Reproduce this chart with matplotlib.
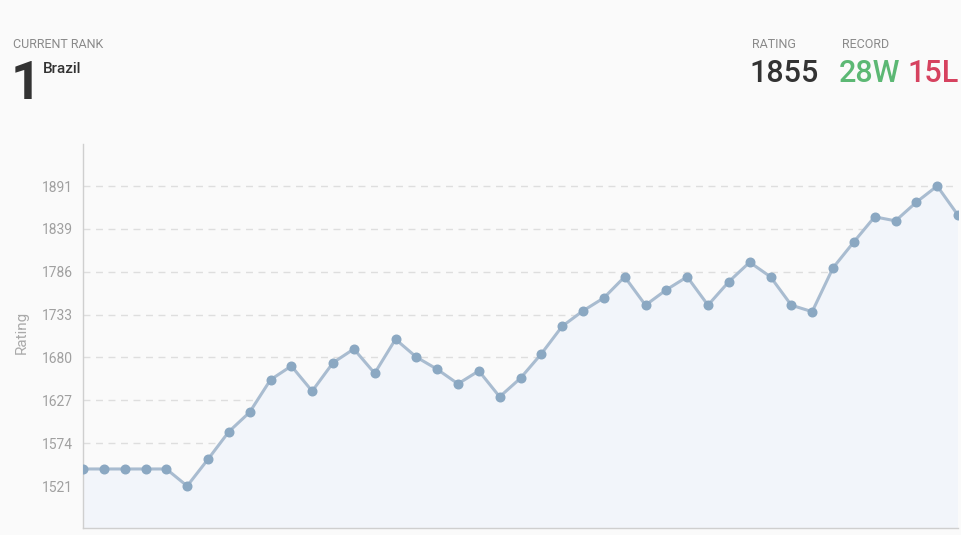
import numpy as np
import matplotlib
matplotlib.use("Agg")
import matplotlib.pyplot as plt

plt.rcParams["font.family"] = ["Roboto", "DejaVu Sans"]

BG = "#fafafa"
FILL = "#f2f5fa"
LINE = "#a9bcd0"
MARKER = "#8ba8c2"
GRID = "#dedede"
TICK_TEXT = "#a0a0a0"
LABEL_TEXT = "#8a8a8a"
DARK_TEXT = "#333333"
WIN_COLOR = "#5cb874"
LOSS_COLOR = "#d6425f"

# rating after each game
ratings = [1542, 1542, 1542, 1542, 1542, 1521, 1554, 1588, 1612, 1652,
           1669, 1638, 1673, 1690, 1660, 1702, 1680, 1665, 1647, 1663,
           1631, 1654, 1684, 1718, 1737, 1753, 1779, 1744, 1763, 1779,
           1744, 1773, 1797, 1779, 1744, 1736, 1790, 1822, 1853, 1848,
           1871, 1891, 1855]
rank = "1"
team = "Brazil"
current_rating = "1855"
wins = "28W"
losses = "15L"

games = np.arange(len(ratings))
lo, hi = min(ratings), max(ratings)
tick_vals = np.linspace(lo, hi, 8)
tick_labels = [str(int(np.ceil(v - 1e-9))) for v in tick_vals]

W, H = 961, 535
AX_L, AX_R, AX_T, AX_B = 83, 958, 144, 528
fig = plt.figure(figsize=(W / 100, H / 100), dpi=100)
fig.patch.set_facecolor(BG)

ax = fig.add_axes([AX_L / W, (H - AX_B) / H, (AX_R - AX_L) / W, (AX_B - AX_T) / H])
ax.set_facecolor(BG)

ax.fill_between(games, ratings, 0, color=FILL, zorder=1)
ax.plot(games, ratings, color=LINE, lw=2.2, zorder=3)
ax.plot(games, ratings, "o", color=MARKER, ms=6.2, zorder=4)

pad = (hi - lo) * 0.14
ax.set_xlim(0, len(ratings) - 1)
ax.set_ylim(lo - pad, hi + pad)
ax.set_yticks(tick_vals)
ax.set_yticklabels(tick_labels)
ax.set_xticks([])
ax.yaxis.grid(True, color=GRID, lw=1, ls=(0, (5, 4)), zorder=0)
ax.set_axisbelow(True)
ax.tick_params(axis="y", length=0, pad=7, labelsize=10, labelcolor=TICK_TEXT)
ax.set_ylabel("Rating", color="#aaaaaa", fontsize=11)
# right edge of the rotated label at about x=29px, centred near y=332px
ax.yaxis.set_label_coords(-(AX_L - 29) / (AX_R - AX_L), (AX_B - 332) / (AX_B - AX_T))

for side in ["top", "right"]:
    ax.spines[side].set_visible(False)
for side in ["left", "bottom"]:
    ax.spines[side].set_color("#cfcfcf")
    ax.spines[side].set_linewidth(1)

# header
def fy(py):
    return 1 - py / H

fig.text(13 / W, fy(44), "CURRENT RANK", fontsize=9, color=LABEL_TEXT, va="center")
fig.text(11 / W, fy(99), rank, fontsize=38, fontweight="bold", color=DARK_TEXT,
         va="baseline")
fig.text(43 / W, fy(73), team, fontsize=11, fontweight="medium", color=DARK_TEXT,
         va="baseline")

fig.text(752 / W, fy(44), "RATING", fontsize=9, color=LABEL_TEXT, va="center")
fig.text(842 / W, fy(44), "RECORD", fontsize=9, color=LABEL_TEXT, va="center")
fig.text(749 / W, fy(82), current_rating, fontsize=22, fontweight="medium",
         color=DARK_TEXT, va="baseline")
fig.text(839 / W, fy(82), wins, fontsize=22, fontweight="medium", color=WIN_COLOR,
         va="baseline")
fig.text(907 / W, fy(82), losses, fontsize=22, fontweight="medium", color=LOSS_COLOR,
         va="baseline")

fig.savefig("out.png", dpi=100, facecolor=BG)
plt.close(fig)
